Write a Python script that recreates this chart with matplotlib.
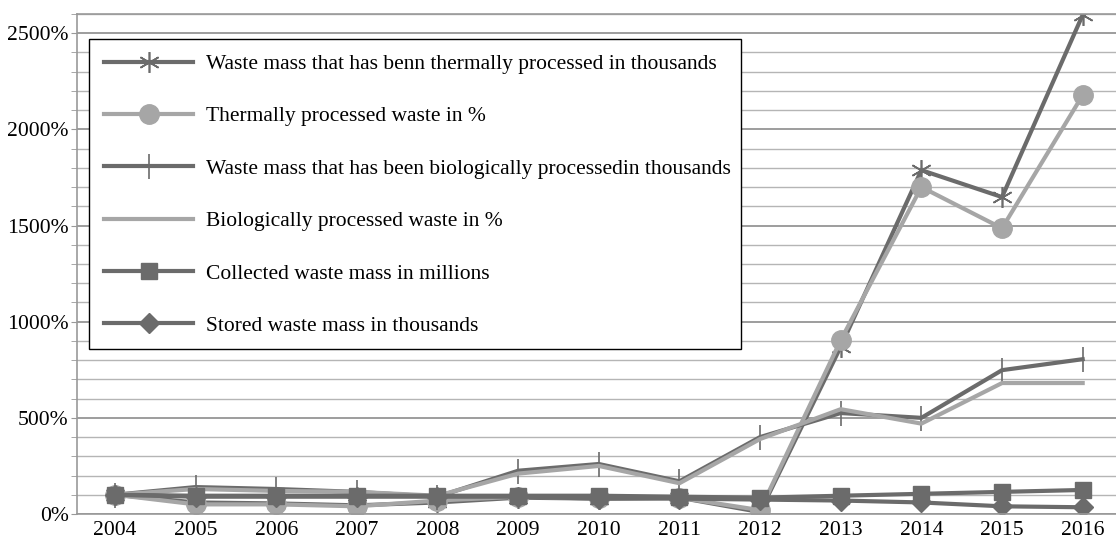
"""Waste processing indices 2004-2016, relative to 2004 (=100%)."""

import matplotlib
matplotlib.use("Agg")
import matplotlib.pyplot as plt
from matplotlib.patches import Rectangle
from matplotlib.ticker import MultipleLocator, FuncFormatter

plt.rcParams["font.family"] = ["Liberation Serif", "DejaVu Serif"]

years = ["2004", "2005", "2006", "2007", "2008", "2009", "2010",
         "2011", "2012", "2013", "2014", "2015", "2016"]

thermal_mass = [100, 60, 55, 45, 60, 85, 80, 85, 10, 870, 1788, 1648, 2595]
thermal_pct = [100, 50, 50, 40, 70, 90, 85, 85, 20, 904, 1700, 1486, 2178]
bio_mass = [100, 140, 130, 115, 90, 225, 260, 170, 400, 525, 500, 748, 805]
bio_pct = [100, 130, 120, 115, 95, 210, 250, 160, 390, 545, 470, 681, 681]
collected = [100, 95, 95, 95, 95, 95, 95, 90, 85, 95, 105, 115, 125]
stored = [100, 90, 90, 90, 90, 90, 80, 80, 75, 70, 60, 40, 35]

labels = [
    "Waste mass that has benn thermally processed in thousands",
    "Thermally processed waste in %",
    "Waste mass that has been biologically processedin thousands",
    "Biologically processed waste in %",
    "Collected waste mass in millions",
    "Stored waste mass in thousands",
]

DARK = "#6b6b6b"
LIGHT = "#a6a6a6"

series = [
    (thermal_mass, DARK, dict(marker=(6, 2, 0), ms=15, mew=1.2)),
    (thermal_pct, LIGHT, dict(marker="o", ms=14)),
    (bio_mass, DARK, dict(marker="|", ms=18, mew=1.2)),
    (bio_pct, LIGHT, dict(marker=None)),
    (collected, DARK, dict(marker="s", ms=12)),
    (stored, DARK, dict(marker="D", ms=10)),
]

W, H = 1116, 542
fig = plt.figure(figsize=(W / 100, H / 100), dpi=100)
ax = fig.add_axes([77 / W, 28 / H, 1046 / W, 500 / H])

x = list(range(len(years)))
for (vals, col, mk), lab in zip(series, labels):
    ax.plot(x, vals, color=col, lw=3, label=lab, mfc=col, mec=col, **mk)

ax.set_xlim(-0.47, 12.5)
ax.set_ylim(0, 2600)
ax.set_xticks(x)
ax.set_xticklabels(years)
ax.yaxis.set_major_locator(MultipleLocator(500))
ax.yaxis.set_minor_locator(MultipleLocator(100))
ax.yaxis.set_major_formatter(FuncFormatter(lambda v, p: f"{v:.0f}%"))
ax.tick_params(axis="both", labelsize=15.6, colors="black")
ax.tick_params(axis="x", length=0, pad=5)
ax.tick_params(axis="y", which="both", length=4, color="#999999", pad=2)
ax.grid(axis="y", which="major", color="#8c8c8c", lw=1.2, zorder=0)
ax.grid(axis="y", which="minor", color="#b5b5b5", lw=1.0, zorder=0)
ax.set_axisbelow(True)
ax.spines["right"].set_visible(False)
for side in ["left", "bottom", "top"]:
    ax.spines[side].set_color("#999999")
    ax.spines[side].set_linewidth(1.2)

# legend box drawn separately so its right margin can be tight
box = Rectangle((89 / W, 1 - 349 / H), 652 / W, 310 / H,
                transform=fig.transFigure, facecolor="white",
                edgecolor="black", lw=1.0, zorder=4, clip_on=False)
ax.add_patch(box)

leg = ax.legend(loc="upper left", bbox_to_anchor=(89 / W, 1 - 39 / H),
                bbox_transform=fig.transFigure, fontsize=15.5,
                frameon=False, handlelength=4.15, handletextpad=0.6,
                labelspacing=1.5, borderpad=0.7, borderaxespad=0)
leg.set_zorder(5)

fig.savefig("out.png", dpi=100)
